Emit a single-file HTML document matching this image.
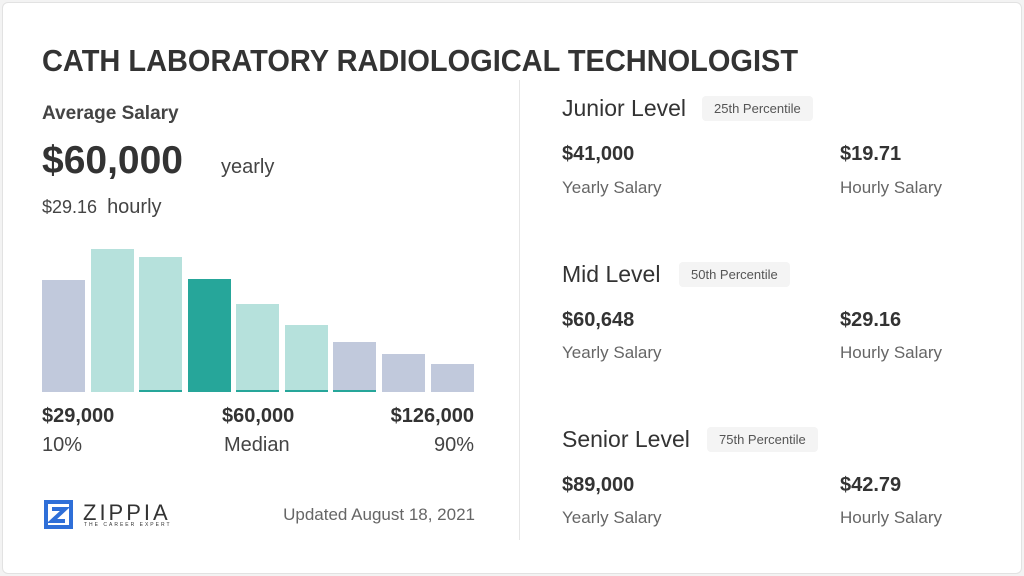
<!DOCTYPE html>
<html><head><meta charset="utf-8"><style>
body{margin:0;width:1024px;height:576px;background:#f3f3f3;font-family:"Liberation Sans",sans-serif;color:#333;overflow:hidden}
.card{position:absolute;left:2px;top:2px;width:1018px;height:570px;background:#fff;border:1px solid #e2e2e2;border-radius:6px}
.t{position:absolute;white-space:nowrap}
.bar{position:absolute;bottom:184px;width:43px}
.g{background:#c1c9dc}.l{background:#b6e1dc}.d{background:#26a69a}
.ln{border-bottom:2px solid #26a69a}
.pill{position:absolute;background:#f4f4f4;border-radius:4px;font-size:13px;color:#555;padding:5px 12px}
</style></head><body>
<div class="card"></div>
<div class="t" style="left:42px;top:44px;font-size:30.5px;font-weight:bold;color:#333;transform:scaleX(0.95);transform-origin:left">CATH LABORATORY RADIOLOGICAL TECHNOLOGIST</div>
<div class="t" style="left:42px;top:103px;font-size:19px;font-weight:bold;color:#444">Average Salary</div>
<div class="t" style="left:42px;top:139px;font-size:39px;font-weight:bold;color:#333">$60,000</div>
<div class="t" style="left:221px;top:156px;font-size:20px;color:#444">yearly</div>
<div class="t" style="left:42px;top:196px;font-size:18px;color:#444">$29.16 &nbsp;<span style="font-size:20px">hourly</span></div>
<div class="bar g" style="left:42px;height:112px"></div>
<div class="bar l" style="left:91px;height:143px"></div>
<div class="bar l ln" style="left:139px;height:133px"></div>
<div class="bar d" style="left:188px;height:113px"></div>
<div class="bar l ln" style="left:236px;height:86px"></div>
<div class="bar l ln" style="left:285px;height:65px"></div>
<div class="bar g ln" style="left:333px;height:48px"></div>
<div class="bar g" style="left:382px;height:38px"></div>
<div class="bar g" style="left:431px;height:28px"></div>
<div class="t" style="left:42px;top:405px;font-size:20px;font-weight:bold">$29,000</div>
<div class="t" style="left:222px;top:405px;font-size:20px;font-weight:bold">$60,000</div>
<div class="t" style="right:550px;top:405px;font-size:20px;font-weight:bold">$126,000</div>
<div class="t" style="left:42px;top:434px;font-size:20px;color:#444">10%</div>
<div class="t" style="left:224px;top:434px;font-size:20px;color:#444">Median</div>
<div class="t" style="right:550px;top:434px;font-size:20px;color:#444">90%</div>
<svg class="t" style="left:44px;top:500px" width="29" height="29"><rect x="2" y="2" width="25" height="25" fill="none" stroke="#2f6fd8" stroke-width="4"/><path d="M8 9H21L8 21H21" fill="none" stroke="#2f6fd8" stroke-width="4"/></svg>
<div class="t" style="left:83px;top:500px;font-size:22px;letter-spacing:3px;color:#333">ZIPPIA</div>
<div class="t" style="left:84px;top:522px;font-size:5px;letter-spacing:2px;color:#333">THE CAREER EXPERT</div>
<div class="t" style="right:549px;top:505px;font-size:17px;color:#666">Updated August 18, 2021</div>
<div style="position:absolute;left:519px;top:80px;width:1px;height:460px;background:#e6e6e6"></div>

<div class="t" style="left:562px;top:95px;font-size:23px;color:#333">Junior Level</div>
<div class="pill" style="left:702px;top:96px">25th Percentile</div>
<div class="t" style="left:562px;top:143px;font-size:20px;font-weight:bold">$41,000</div>
<div class="t" style="left:840px;top:143px;font-size:20px;font-weight:bold">$19.71</div>
<div class="t" style="left:562px;top:178px;font-size:17px;color:#666">Yearly Salary</div>
<div class="t" style="left:840px;top:178px;font-size:17px;color:#666">Hourly Salary</div>

<div class="t" style="left:562px;top:261px;font-size:23px;color:#333">Mid Level</div>
<div class="pill" style="left:679px;top:262px">50th Percentile</div>
<div class="t" style="left:562px;top:309px;font-size:20px;font-weight:bold">$60,648</div>
<div class="t" style="left:840px;top:309px;font-size:20px;font-weight:bold">$29.16</div>
<div class="t" style="left:562px;top:343px;font-size:17px;color:#666">Yearly Salary</div>
<div class="t" style="left:840px;top:343px;font-size:17px;color:#666">Hourly Salary</div>

<div class="t" style="left:562px;top:426px;font-size:23px;color:#333">Senior Level</div>
<div class="pill" style="left:707px;top:427px">75th Percentile</div>
<div class="t" style="left:562px;top:474px;font-size:20px;font-weight:bold">$89,000</div>
<div class="t" style="left:840px;top:474px;font-size:20px;font-weight:bold">$42.79</div>
<div class="t" style="left:562px;top:508px;font-size:17px;color:#666">Yearly Salary</div>
<div class="t" style="left:840px;top:508px;font-size:17px;color:#666">Hourly Salary</div>
</body></html>
